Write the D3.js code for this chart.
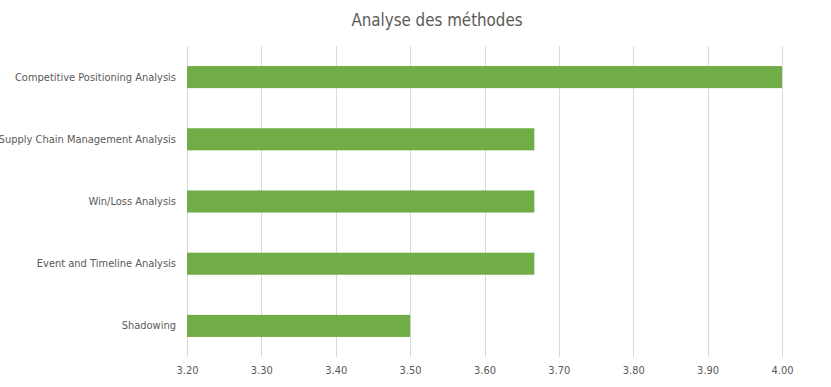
<!DOCTYPE html>
<html>
<head>
<meta charset="utf-8">
<script src="https://cdn.jsdelivr.net/npm/d3@7"></script>
<style>
    body { margin: 0; background: #fff; }
    .font { font-family: "Liberation Sans Narrow", "DejaVu Sans Condensed", "Liberation Sans", sans-serif; fill: #595959; }
    .title { font-size: 16.8px; }
    .tick-label { font-size: 11px; }
</style>
</head>
<body>
<svg id="chart" width="831" height="387"></svg>
<script>
const SVG_WIDTH = 831;
const SVG_HEIGHT = 387;
const PLOT_TITLE_TXT = "Analyse des méthodes";

// data, top to bottom
const categories = [
    "Competitive Positioning Analysis",
    "Supply Chain Management Analysis",
    "Win/Loss Analysis",
    "Event and Timeline Analysis",
    "Shadowing"
];
const values = [4.00, 3.667, 3.667, 3.667, 3.50];
const xTicks = [3.2, 3.3, 3.4, 3.5, 3.6, 3.7, 3.8, 3.9, 4.0];
const X_MIN = 3.2;
const X_MAX = 4.0;

var svg = d3.select("#chart");

svg.append("rect")
    .attr("width", SVG_WIDTH)
    .attr("height", SVG_HEIGHT)
    .attr("fill", "#fff");

svg.append("text")
    .attr("x", 437)
    .attr("y", 20)
    .attr("text-anchor", "middle")
    .attr("dominant-baseline", "central")
    .text(PLOT_TITLE_TXT)
    .classed("font title", true);

var xScale = d3.scaleLinear()
    .domain([X_MIN, X_MAX])
    .range([187, 782]);
var yScale = d3.scaleBand()
    .domain(categories)
    .range([46, 357])
    .paddingInner(0.645)
    .paddingOuter(0.3225);

// vertical gridlines
svg.append("g")
    .selectAll("line")
    .data(xTicks)
    .enter()
    .append("line")
    .attr("x1", function(d) { return Math.round(xScale(d)) + 0.5; })
    .attr("x2", function(d) { return Math.round(xScale(d)) + 0.5; })
    .attr("y1", 46)
    .attr("y2", 357)
    .attr("stroke", "#d9d9d9")
    .attr("stroke-width", 1);

// bars
svg.append("g")
    .selectAll("rect")
    .data(categories)
    .enter()
    .append("rect")
    .attr("x", xScale(X_MIN))
    .attr("y", function(d) { return yScale(d); })
    .attr("width", function(d, i) { return xScale(values[i]) - xScale(X_MIN); })
    .attr("height", yScale.bandwidth())
    .attr("fill", "#70ad47");

// x axis labels
var xAxis = d3.axisBottom(xScale)
    .tickValues(xTicks)
    .tickFormat(d3.format(".2f"))
    .tickSize(0)
    .tickPadding(0);
var xAxisGroup = svg.append("g")
    .attr("transform", "translate(0, 366)")
    .call(xAxis);
xAxisGroup.select(".domain").remove();
xAxisGroup.selectAll("text")
    .attr("dy", "0.71em")
    .attr("fill", null)
    .classed("font tick-label", true);
xAxisGroup.attr("font-family", null).attr("font-size", null);

// y axis labels
var yAxis = d3.axisLeft(yScale)
    .tickSize(0)
    .tickPadding(11);
var yAxisGroup = svg.append("g")
    .attr("transform", "translate(187, 0)")
    .call(yAxis);
yAxisGroup.select(".domain").remove();
yAxisGroup.selectAll("text")
    .attr("fill", null)
    .classed("font tick-label", true);
yAxisGroup.attr("font-family", null).attr("font-size", null);
</script>
</body>
</html>
